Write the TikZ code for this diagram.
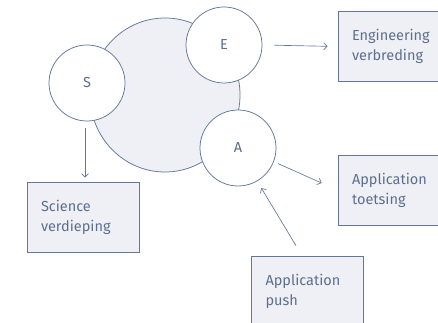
\documentclass[tikz,border=0pt]{standalone}
\usepackage{fontspec}
\setmainfont{Fira Sans}
\usetikzlibrary{arrows.meta,calc}
\definecolor{ln}{HTML}{62769A}
\definecolor{bg}{HTML}{EEF0F5}
\definecolor{tx}{HTML}{5E6F8E}
\begin{document}
\begin{tikzpicture}[x=1pt,y=-1pt,
  circ/.style={circle, draw=ln, fill=white, minimum size=76pt, inner sep=0pt,
    line width=0.75pt, text=tx, font=\fontsize{14.5}{16}\selectfont},
  box/.style={rectangle, draw=ln, fill=bg, line width=0.75pt,
    minimum width=112pt, minimum height=70pt, text width=84pt, align=left,
    inner sep=0pt, text=tx, font=\fontsize{14.5}{20}\selectfont},
  arr/.style={draw=ln, line width=0.65pt, -{Straight Barb[length=3.5pt,width=7pt]}}]
\useasboundingbox (0,0) rectangle (438,323);
\clip (0,0) rectangle (438,323);

% shared core
\draw[ln, fill=bg, line width=0.75pt] (165,95) ellipse [x radius=75, y radius=77];

% the three pillars
\node[circ] (S) at (87,83) {S};
\node[circ] (E) at (224,45) {E};
\node[circ] (A) at (238,148) {A};

% outcomes
\node[box] (eng) at (394,46.5) {Engineering\\verbreding};
\node[box] (toet) at (394,190.5) {Application\\toetsing};
\node[box] (sci) at (83,217) {Science\\verdieping};
\node[box] (push) at (307.5,291) {Application\\push};

% connectors
\draw[arr, shorten <=12pt, shorten >=10pt] (E.east) -- (eng.west);
\draw[arr, shorten <=7pt, shorten >=4pt] ([xshift=-2pt]S.south) -- ([xshift=-2pt]S.south |- sci.north);
\coordinate (toetIn) at ($(toet.west)+(-16,-7.5)$);
\draw[arr, shorten <=4.7pt] (A.-21) -- (toetIn);
\coordinate (pushOut) at ($(push.north)+(-11.5,-10)$);
\draw[arr, shorten >=8pt] (pushOut) -- (A.-60);
\end{tikzpicture}
\end{document}
